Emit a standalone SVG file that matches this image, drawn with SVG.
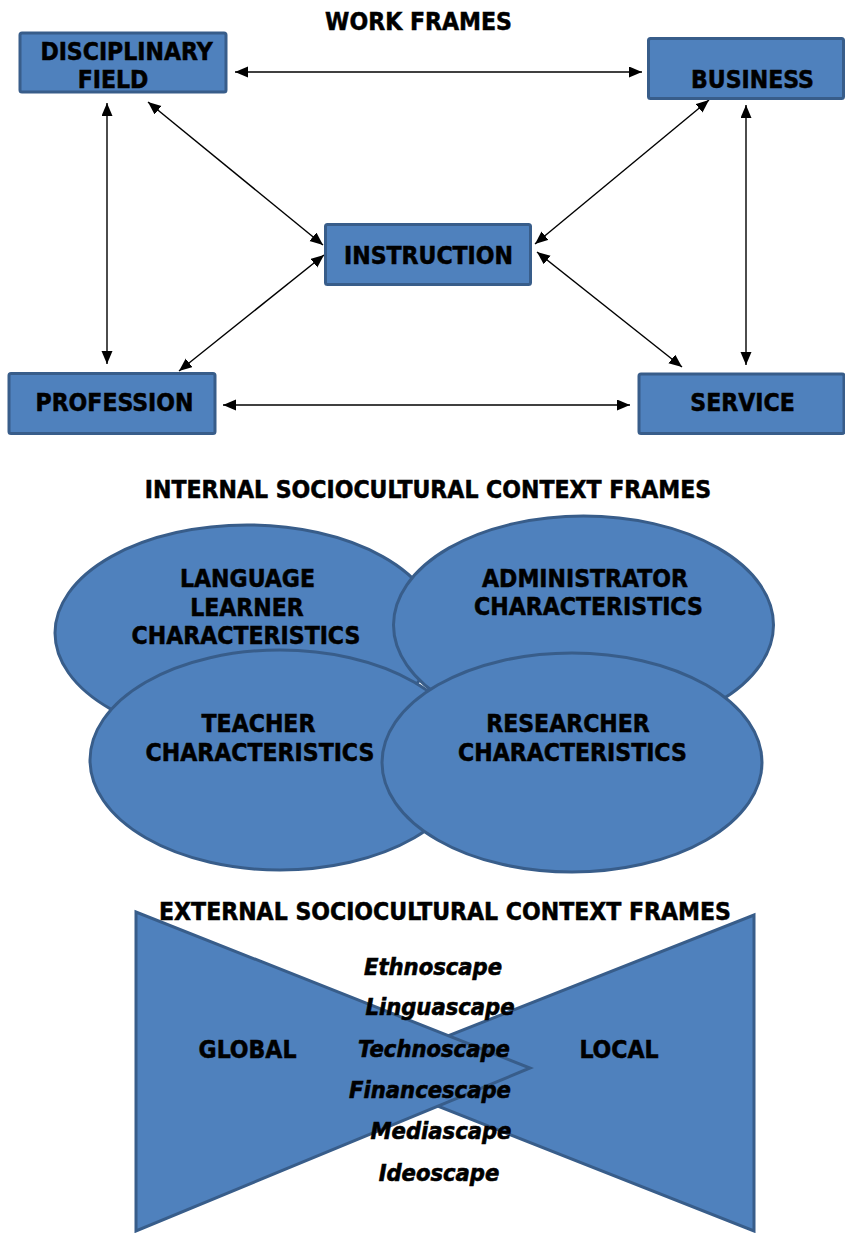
<svg xmlns="http://www.w3.org/2000/svg" width="845" height="1233" viewBox="0 0 845 1233">
  <defs>
    <style>
      .box { fill: #4f81bd; stroke: #385d8a; stroke-width: 3; }
      .shape { fill: #4f81bd; stroke: #385d8a; stroke-width: 3; stroke-linejoin: miter; }
      .lbl { font-family: "DejaVu Sans Condensed", "DejaVu Sans", "Liberation Sans", sans-serif; font-stretch: condensed; font-weight: bold; font-size: 24.5px; fill: #000; stroke: #000; stroke-width: 0.5; text-anchor: middle; }
      .scape { font-family: "DejaVu Sans Condensed", "DejaVu Sans", "Liberation Sans", sans-serif; font-stretch: condensed; font-weight: bold; font-style: italic; font-size: 23.5px; fill: #000; stroke: #000; stroke-width: 0.6; text-anchor: middle; }
      .conn { stroke: #000; stroke-width: 1.4; fill: none; marker-start: url(#head); marker-end: url(#head); }
    </style>
    <marker id="head" markerUnits="userSpaceOnUse" markerWidth="14" markerHeight="12" refX="13" refY="5.5" orient="auto-start-reverse">
      <path d="M0,0 L13,5.5 L0,11 z" fill="#000"/>
    </marker>
  </defs>

  <rect width="845" height="1233" fill="#fff"/>

  <!-- Work frames -->
  <text class="lbl" x="418.5" y="30">WORK FRAMES</text>

  <g id="connectors">
    <line class="conn" x1="235" y1="72" x2="642" y2="72"/>
    <line class="conn" x1="107" y1="103" x2="107" y2="364"/>
    <line class="conn" x1="148" y1="102" x2="323" y2="245"/>
    <line class="conn" x1="709" y1="100" x2="535" y2="244"/>
    <line class="conn" x1="746" y1="105" x2="746" y2="365"/>
    <line class="conn" x1="324" y1="255" x2="179" y2="371"/>
    <line class="conn" x1="537" y1="252" x2="682" y2="367"/>
    <line class="conn" x1="223" y1="405" x2="630" y2="405"/>
  </g>

  <g id="disciplinary-field">
    <rect class="box" x="20" y="33" width="206" height="59" rx="2"/>
    <text class="lbl" x="126.5" y="60">DISCIPLINARY</text>
    <text class="lbl" x="113" y="88">FIELD</text>
  </g>

  <g id="business">
    <rect class="box" x="648.5" y="38.5" width="195" height="60" rx="2"/>
    <text class="lbl" x="752.5" y="88">BUSINESS</text>
  </g>

  <g id="instruction">
    <rect class="box" x="325.5" y="224.5" width="205" height="60" rx="2"/>
    <text class="lbl" x="428.5" y="264">INSTRUCTION</text>
  </g>

  <g id="profession">
    <rect class="box" x="9" y="373.5" width="206" height="60" rx="2"/>
    <text class="lbl" x="114.5" y="411">PROFESSION</text>
  </g>

  <g id="service">
    <rect class="box" x="639" y="374" width="205" height="59.5" rx="2"/>
    <text class="lbl" x="742.5" y="411">SERVICE</text>
  </g>

  <!-- Internal sociocultural context frames -->
  <text class="lbl" x="428" y="498">INTERNAL SOCIOCULTURAL CONTEXT FRAMES</text>

  <g id="language-learner">
    <ellipse class="shape" cx="247" cy="633" rx="192" ry="108"/>
  </g>
  <g id="administrator">
    <ellipse class="shape" cx="583.5" cy="625" rx="190" ry="109"/>
  </g>
  <g id="teacher">
    <ellipse class="shape" cx="280" cy="760" rx="190" ry="110"/>
  </g>
  <g id="researcher">
    <ellipse class="shape" cx="572" cy="762.5" rx="190" ry="109.5"/>
  </g>

  <g id="ellipse-labels">
    <text class="lbl" x="247.5" y="587">LANGUAGE</text>
    <text class="lbl" x="247" y="616">LEARNER</text>
    <text class="lbl" x="246" y="644">CHARACTERISTICS</text>
    <text class="lbl" x="585" y="587">ADMINISTRATOR</text>
    <text class="lbl" x="588.5" y="615">CHARACTERISTICS</text>
    <text class="lbl" x="258.5" y="732">TEACHER</text>
    <text class="lbl" x="260" y="761">CHARACTERISTICS</text>
    <text class="lbl" x="568" y="732">RESEARCHER</text>
    <text class="lbl" x="572.5" y="761">CHARACTERISTICS</text>
  </g>

  <!-- External sociocultural context frames -->
  <g id="local">
    <polygon class="shape" points="754,915 754,1231 354,1073"/>
  </g>
  <g id="global">
    <polygon class="shape" points="136,912 136,1231 530,1068"/>
  </g>

  <text class="lbl" x="445" y="920">EXTERNAL SOCIOCULTURAL CONTEXT FRAMES</text>
  <text class="lbl" x="247.5" y="1058">GLOBAL</text>
  <text class="lbl" x="619" y="1058">LOCAL</text>

  <g id="scapes">
    <text class="scape" x="433" y="975">Ethnoscape</text>
    <text class="scape" x="440" y="1015">Linguascape</text>
    <text class="scape" x="434" y="1057">Technoscape</text>
    <text class="scape" x="430" y="1098">Financescape</text>
    <text class="scape" x="441" y="1139">Mediascape</text>
    <text class="scape" x="439" y="1181">Ideoscape</text>
  </g>
</svg>
